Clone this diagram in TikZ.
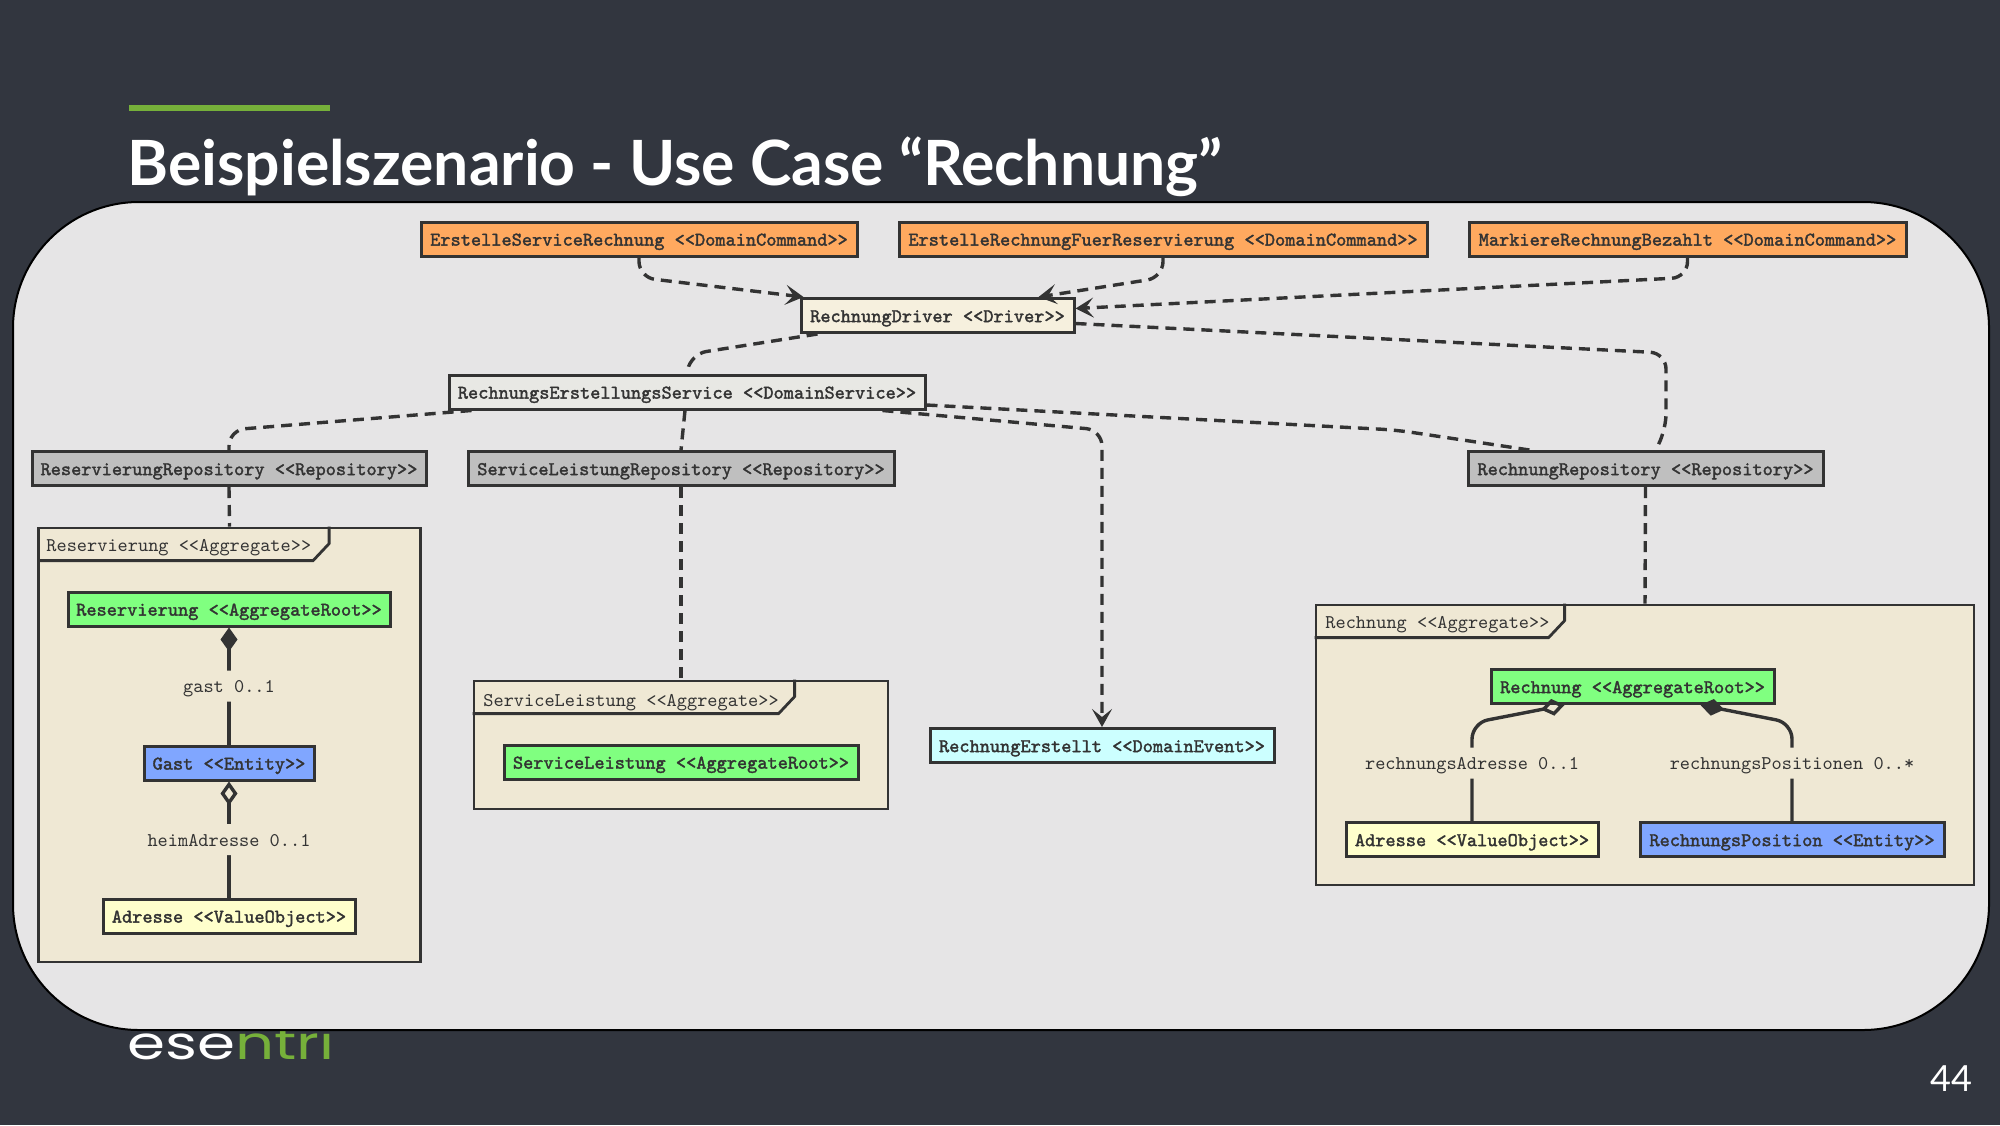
\documentclass[tikz,border=0pt]{standalone}
\usepackage{fontspec}
\setmainfont{Lato}
\newfontfamily\boxfont{Latin Modern Mono}[FakeBold=1.8]
\newfontfamily\logofont{Poppins}
\usetikzlibrary{arrows.meta}

\definecolor{slidebg}{HTML}{32363F}
\definecolor{panelbg}{HTML}{E6E5E6}
\definecolor{inkcol}{HTML}{333333}
\definecolor{cmdcol}{HTML}{FFA95F}
\definecolor{drivercol}{HTML}{F6F0DE}
\definecolor{servicecol}{HTML}{E8E8E4}
\definecolor{repocol}{HTML}{BFBFBF}
\definecolor{aggcol}{HTML}{EFE8D4}
\definecolor{rootcol}{HTML}{80FF80}
\definecolor{entitycol}{HTML}{80A6FF}
\definecolor{valuecol}{HTML}{FFFFCC}
\definecolor{eventcol}{HTML}{CCFFFF}
\definecolor{brandgreen}{HTML}{76B03A}

\tikzset{
  box/.style={rectangle, draw=inkcol, line width=1.5pt, inner sep=0pt, minimum height=17pt,
    text height=6.6pt, text depth=0pt, text=inkcol, font=\boxfont\fontsize{9.7pt}{11pt}\selectfont},
  cmd/.style={box, fill=cmdcol},
  repo/.style={box, fill=repocol},
  root/.style={box, fill=rootcol},
  entity/.style={box, fill=entitycol},
  value/.style={box, fill=valuecol},
  agg/.style={rectangle, draw=inkcol, line width=1.4pt, fill=aggcol, inner sep=0pt},
  tabline/.style={draw=inkcol, line width=1.4pt},
  tabtext/.style={anchor=west, inner sep=0pt, text height=6.6pt, text depth=0pt, text=inkcol, font=\ttfamily\fontsize{9.7pt}{11pt}\selectfont},
  dep/.style={draw=inkcol, line width=1.7pt, dash pattern=on 5.5pt off 3.5pt, rounded corners=8pt},
  link/.style={draw=inkcol, line width=1.7pt, rounded corners=8pt},
  role/.style={fill=aggcol, inner sep=0pt, minimum height=15.5pt, text height=6.6pt, text depth=0pt, text=inkcol, font=\ttfamily\fontsize{9.7pt}{11pt}\selectfont},
  >={Stealth[length=9pt, width=10pt, inset=4pt]}
}

\begin{document}
\begin{tikzpicture}[x=0.5pt, y=-0.5pt]
  \fill[slidebg] (0,0) rectangle (2000,1125);
  \fill[brandgreen] (129,105) rectangle (330,111);
  \node[anchor=base west, inner sep=0pt, text=white, font=\bfseries\fontsize{31.2pt}{36pt}\selectfont] (title) at (127,185) {Beispielszenario - Use Case “Rechnung”};
  \node[anchor=base west, inner sep=0pt, xscale=1.33, text=white, font=\logofont\fontsize{23pt}{26pt}\selectfont] (logo) at (127,1059) {ese\textcolor{brandgreen}{ntri}};
  \node[inner sep=0pt, text=white, font=\fontsize{18pt}{20pt}\selectfont] (page) at (1951,1079) {44};
  \filldraw[fill=panelbg, draw=black, line width=1pt, rounded corners=63pt] (13,202) rectangle (1989,1030);

  \node[agg, minimum width=191pt, minimum height=217pt] (agg1) at (229.5,745) {};
  \node[agg, minimum width=207pt, minimum height=64pt] (agg2) at (681,745) {};
  \node[agg, minimum width=329pt, minimum height=140pt] (agg3) at (1645,745) {};
  \draw[tabline] (agg1.north west) ++(0,34) -- ++(276,0) -- ++(16,-17) -- ++(0,-17);
  \draw[tabline] (agg2.north west) ++(0,34) -- ++(306,0) -- ++(16,-17) -- ++(0,-17);
  \draw[tabline] (agg3.north west) ++(0,34) -- ++(234,0) -- ++(16,-17) -- ++(0,-17);
  \node[tabtext] (tab1) at (46,545) {Reservierung <{}<Aggregate>{}>};
  \node[tabtext] (tab2) at (483,700) {ServiceLeistung <{}<Aggregate>{}>};
  \node[tabtext] (tab3) at (1325,622) {Rechnung <{}<Aggregate>{}>};

  \node[cmd, minimum width=218pt] (cmd1) at (639,239) {ErstelleServiceRechnung <{}<DomainCommand>{}>};
  \node[cmd, minimum width=264pt] (cmd2) at (1163,239) {ErstelleRechnungFuerReservierung <{}<DomainCommand>{}>};
  \node[cmd, minimum width=218.5pt] (cmd3) at (1687.5,239) {MarkiereRechnungBezahlt <{}<DomainCommand>{}>};
  \node[box, fill=drivercol, minimum width=136.5pt] (driver) at (937.5,315.5) {RechnungDriver <{}<Driver>{}>};
  \node[box, fill=servicecol, minimum width=238pt] (service) at (687,392) {RechnungsErstellungsService <{}<DomainService>{}>};
  \node[repo, minimum width=197pt] (repo1) at (229,468.5) {ReservierungRepository <{}<Repository>{}>};
  \node[repo, minimum width=213pt] (repo2) at (681,468.5) {ServiceLeistungRepository <{}<Repository>{}>};
  \node[repo, minimum width=177.5pt] (repo3) at (1645.5,468.5) {RechnungRepository <{}<Repository>{}>};
  \node[box, fill=eventcol, minimum width=172pt] (event) at (1102,745.5) {RechnungErstellt <{}<DomainEvent>{}>};

  \node[root, minimum width=161pt] (root1) at (229,609) {Reservierung <{}<AggregateRoot>{}>};
  \node[entity, minimum width=85pt, below of=root1, node distance=77pt] (gast) {Gast <{}<Entity>{}>};
  \node[value, minimum width=126pt, below of=gast, node distance=76.5pt] (adr1) {Adresse <{}<ValueObject>{}>};
  \node[root, minimum width=177pt] (root2) at (681,762) {ServiceLeistung <{}<AggregateRoot>{}>};
  \node[root, minimum width=141.5pt] (root3) at (1632.5,686.5) {Rechnung <{}<AggregateRoot>{}>};
  \node[value, minimum width=126pt] (adr2) at (1472,839.5) {Adresse <{}<ValueObject>{}>};
  \node[entity, minimum width=152pt, right of=adr2, node distance=160pt] (pos) {RechnungsPosition <{}<Entity>{}>};

  \draw[dep, ->] (cmd1.south) -- ++(0,20) -- ([xshift=2pt]driver.north west);
  \draw[dep, ->] (cmd2.south) -- ++(0,20) -- ([xshift=-18.5pt]driver.north east);
  \draw[dep, ->] (cmd3.south) -- ++(0,20) -- ([yshift=3.5pt]driver.east);
  \draw[dep] ([yshift=-4pt]driver.east) -- (1666,353) -- (1666,430) -- ([xshift=5pt]repo3.north);
  \draw[dep] ([xshift=-60pt]driver.south) -- ++(-127,20) -- (service.north);
  \draw[dep] ([xshift=12pt]service.south west) -- (229,430) -- (repo1.north);
  \draw[dep] ([xshift=-1pt]service.south) -- (repo2.north);
  \draw[dep, ->] ([xshift=-22pt]service.south east) -- (1102,430) -- (event.north);
  \draw[dep] ([yshift=-6.5pt]service.east) -- (1396,430) -- ([xshift=-58pt]repo3.north);
  \draw[dep] (repo1.south) -- (agg1.north);
  \draw[dep] (repo2.south) -- (agg2.north);
  \draw[dep] (repo3.south) -- (agg3.north);

  \draw[link, {Diamond[length=12pt, width=8.5pt]}-] (root1.south) -- node[role, pos=.5] (lbl1) {gast 0..1} (gast.north);
  \draw[link, {Diamond[open, length=12pt, width=8.5pt]}-] (gast.south) -- node[role, pos=.5] (lbl2) {heimAdresse 0..1} (adr1.north);
  \draw[link, {Diamond[open, length=12pt, width=8.5pt]}-] ([xshift=-34pt]root3.south) -- (1472,723) -- node[role, pos=.41] (lbl3) {rechnungsAdresse 0..1} (adr2.north);
  \draw[link, {Diamond[length=12pt, width=8.5pt]}-] ([xshift=34pt]root3.south) -- (1792,723) -- node[role, pos=.41] (lbl4) {rechnungsPositionen 0..*} (pos.north);
\end{tikzpicture}
\end{document}
